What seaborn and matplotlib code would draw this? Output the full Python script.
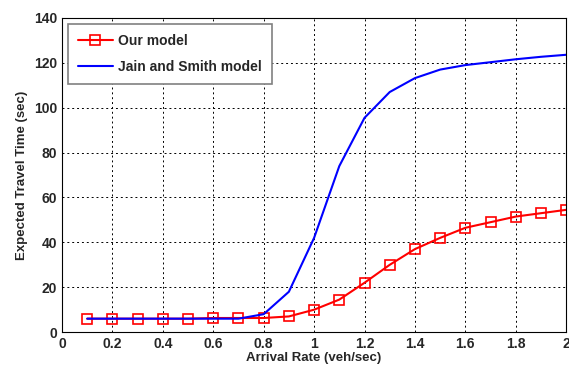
import numpy as np
import pandas as pd
import seaborn as sns
import matplotlib.pyplot as plt

# values
arrival_rate = [0.1, 0.2, 0.3, 0.4, 0.5, 0.6, 0.7, 0.8, 0.9, 1.0,
                1.1, 1.2, 1.3, 1.4, 1.5, 1.6, 1.7, 1.8, 1.9, 2.0]
our_model = [6, 6, 6, 6, 6, 6.3, 6.3, 6.3, 7, 10,
             14.5, 22, 30, 37, 42, 46.5, 49, 51.5, 53, 54.5]
jain_smith = [6, 6, 6, 6, 6, 6, 6, 8, 18, 42,
              74, 95.5, 107, 113.2, 117, 119, 120.3, 121.6, 122.7, 123.6]

df = pd.DataFrame({'rate': arrival_rate, 'Our model': our_model,
                   'Jain and Smith model': jain_smith})

sns.set_style('white')
plt.rcParams['font.family'] = ['Liberation Sans', 'DejaVu Sans']
plt.rcParams['font.weight'] = 'bold'

fig = plt.figure(figsize=(5.69, 3.67), dpi=100)
ax = fig.add_axes([0.109, 0.095, 0.886, 0.856])

sns.lineplot(data=df, x='rate', y='Our model', ax=ax, color='red', lw=1.5,
             marker='s', markersize=6.5, markerfacecolor='none',
             markeredgecolor='red', markeredgewidth=1.2, label='Our model')
sns.lineplot(data=df, x='rate', y='Jain and Smith model', ax=ax, color='blue',
             lw=1.5, label='Jain and Smith model')

ax.set_xlim(0, 2)
ax.set_ylim(0, 140)
ax.set_xticks(np.arange(0, 2.01, 0.2))
ax.set_xticklabels(['0', '0.2', '0.4', '0.6', '0.8', '1', '1.2', '1.4', '1.6', '1.8', '2'])
ax.set_yticks(np.arange(0, 141, 20))
ax.tick_params(direction='in', length=4, labelsize=10, width=0.8)
for lab in ax.get_xticklabels() + ax.get_yticklabels():
    lab.set_fontweight('bold')
ax.grid(True, color='black', linestyle=(0, (2, 3)), lw=0.7)
for s in ax.spines.values():
    s.set_color('black')
    s.set_linewidth(0.8)

ax.set_xlabel('Arrival Rate (veh/sec)', fontsize=9.5, fontweight='bold', labelpad=1)
ax.set_ylabel('Expected Travel Time (sec)', fontsize=9.5, fontweight='bold', labelpad=4)

leg = ax.legend(loc='upper left', fontsize=10, fancybox=False, framealpha=1,
                edgecolor='gray', borderpad=0.75, labelspacing=0.85,
                handlelength=2.5, handletextpad=0.4, borderaxespad=0.4,
                bbox_to_anchor=(0, 1))
leg.get_frame().set_linewidth(1.2)
for t in leg.get_texts():
    t.set_fontweight('bold')

fig.savefig('out.png', dpi=100)
